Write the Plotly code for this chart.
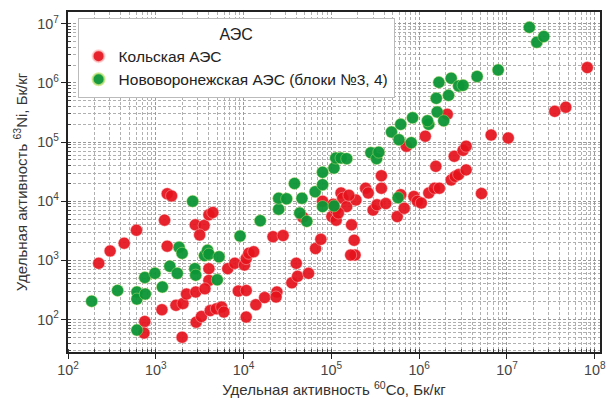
import plotly.graph_objects as go

# Кольская АЭС: log10 values
kola_logx = [2.35, 2.48, 2.64, 2.78, 2.875, 2.866, 3.10, 3.13, 3.18, 3.13, 3.07, 3.23, 3.30, 3.31, 3.35,
             3.456, 3.46, 3.52, 3.45, 3.55, 3.50, 3.605, 3.65, 3.605, 3.605, 3.56, 3.62, 3.69, 3.75, 3.775,
             3.82, 3.90, 3.94, 4.01, 4.03, 4.06, 4.115, 4.03, 4.03, 4.14, 4.24, 4.38, 4.37, 4.335, 4.45,
             4.55, 4.60, 4.615, 4.74, 4.82, 4.88, 4.675, 4.90, 5.006, 5.05, 5.055, 5.11, 5.13, 5.175, 5.23,
             5.26, 5.27, 5.22, 5.28, 5.39, 5.42, 5.475, 5.52, 5.57, 5.57, 5.62, 5.75, 5.79, 5.83, 5.855,
             5.94, 5.98, 6.025, 6.07, 6.11, 6.175, 6.19, 6.23, 6.32, 6.365, 6.41, 6.40, 6.45, 6.50, 6.535,
             6.535, 6.71, 6.82, 7.015, 7.545, 7.67, 7.915, 5.02, 5.08, 5.20]
kola_logy = [2.95, 3.16, 3.29, 3.51, 1.966, 1.77, 3.68, 4.126, 4.09, 3.24, 2.165, 2.24, 1.70, 2.27, 2.43,
             2.465, 1.955, 2.05, 3.60, 3.59, 3.43, 3.77, 3.81, 2.86, 2.66, 2.52, 2.15, 2.18, 2.21, 2.125,
             2.86, 2.95, 2.48, 2.92, 3.03, 3.12, 3.145, 2.49, 2.04, 2.25, 2.37, 2.465, 2.38, 3.40, 3.42,
             2.62, 2.95, 2.73, 2.78, 3.20, 3.355, 3.73, 4.00, 3.74, 3.855, 3.68, 4.14, 4.05, 3.91, 3.60,
             3.34, 3.09, 3.09, 4.02, 4.22, 4.14, 3.85, 3.94, 4.22, 4.43, 3.96, 3.74, 4.11, 3.88, 4.93,
             4.08, 4.00, 3.97, 5.10, 4.14, 4.22, 4.59, 4.22, 5.47, 4.36, 4.42, 4.76, 4.45, 4.86, 4.93,
             4.53, 4.13, 5.12, 5.07, 5.52, 5.59, 6.26, 3.95, 3.80, 4.10]

# Нововоронежская АЭС (блоки №3, 4)
nv_logx = [2.27, 2.565, 2.785, 2.785, 2.785, 2.875, 2.88, 2.99, 3.075, 3.16, 3.245, 3.265, 3.30, 3.42,
           3.445, 3.455, 3.555, 3.59, 3.605, 3.72, 3.70, 3.96, 4.19, 4.40, 4.40, 4.49, 4.58, 4.665, 4.64,
           4.72, 4.815, 4.90, 4.90, 4.90, 5.03, 5.03, 5.05, 5.11, 5.175, 5.45, 5.515, 5.54, 5.685, 5.77,
           5.79, 5.91, 5.925, 6.11, 6.095, 6.205, 6.28, 6.195, 6.225, 6.335, 6.365, 6.45, 6.50, 6.66,
           6.90, 7.255, 7.34, 7.42, 5.76]
nv_logy = [2.31, 2.49, 2.465, 2.345, 1.82, 2.71, 2.43, 2.78, 2.55, 2.90, 2.78, 3.22, 3.12, 4.00,
           2.86, 2.75, 3.08, 3.17, 3.105, 3.06, 2.67, 3.41, 3.67, 3.865, 4.05, 4.04, 4.30, 4.05, 3.80,
           3.66, 4.16, 4.28, 4.49, 3.91, 4.56, 3.92, 4.73, 4.73, 4.72, 4.82, 4.72, 4.83, 5.17, 5.04,
           5.30, 4.99, 5.41, 5.30, 5.36, 5.51, 5.36, 5.74, 6.01, 5.79, 6.08, 5.95, 5.96, 6.11,
           6.22, 6.94, 6.69, 6.785, 4.06]

kola_x = [10 ** v for v in kola_logx]
kola_y = [10 ** v for v in kola_logy]
nv_x = [10 ** v for v in nv_logx]
nv_y = [10 ** v for v in nv_logy]

FONT = "Liberation Sans, Arial, sans-serif"

fig = go.Figure()
fig.add_trace(go.Scatter(x=kola_x, y=kola_y, mode="markers", name="Кольская АЭС",
                         marker=dict(size=12, color="#e6121c", opacity=0.92,
                                     line=dict(width=0.6, color="rgba(255,200,200,0.8)"))))
fig.add_trace(go.Scatter(x=nv_x, y=nv_y, mode="markers", name="Нововоронежская АЭС (блоки №3, 4)",
                         marker=dict(size=12, color="#0c9636", opacity=0.95,
                                     line=dict(width=0.6, color="rgba(200,230,120,0.8)"))))

axis_common = dict(type="log", dtick=1, tick0=0, exponentformat="power", showline=True,
                   linecolor="#222", linewidth=1.5, mirror=True, ticks="outside", ticklen=5,
                   tickcolor="#222", tickfont=dict(size=11.5, color="#444", family=FONT),
                   zeroline=False, automargin=False,
                   showgrid=True, gridcolor="#9a9a9a", gridwidth=1, griddash="3px,2px",
                   minor=dict(ticks="inside", ticklen=3, tickcolor="#444", showgrid=True,
                              gridcolor="#b0b0b0", gridwidth=1, griddash="3px,2px"))

fig.update_xaxes(range=[2.0, 8.06],
                 title=dict(text="Удельная активность <sup>60</sup>Co, Бк/кг",
                            font=dict(size=15, color="#333", family=FONT), standoff=7),
                 **axis_common)
fig.update_yaxes(range=[1.45, 7.2],
                 title=dict(text="Удельная активность <sup>63</sup>Ni, Бк/кг",
                            font=dict(size=15, color="#333", family=FONT), standoff=6),
                 **axis_common)

fig.update_layout(
    width=613, height=403,
    margin=dict(l=68, r=13, t=12, b=51),
    plot_bgcolor="white", paper_bgcolor="white",
    font=dict(family=FONT, color="#222"),
    showlegend=True,
    legend=dict(x=0.018, y=0.983, xanchor="left", yanchor="top",
                title=dict(text="АЭС", side="top center", font=dict(size=16, color="#222")),
                font=dict(size=15.5, color="#222"),
                bgcolor="white", bordercolor="#bbbbbb", borderwidth=1,
                itemsizing="constant", tracegroupgap=0),
)

fig.write_html("out.html", config={"displayModeBar": False},
               post_script="document.body.style.margin='0';document.body.style.overflow='hidden';")
